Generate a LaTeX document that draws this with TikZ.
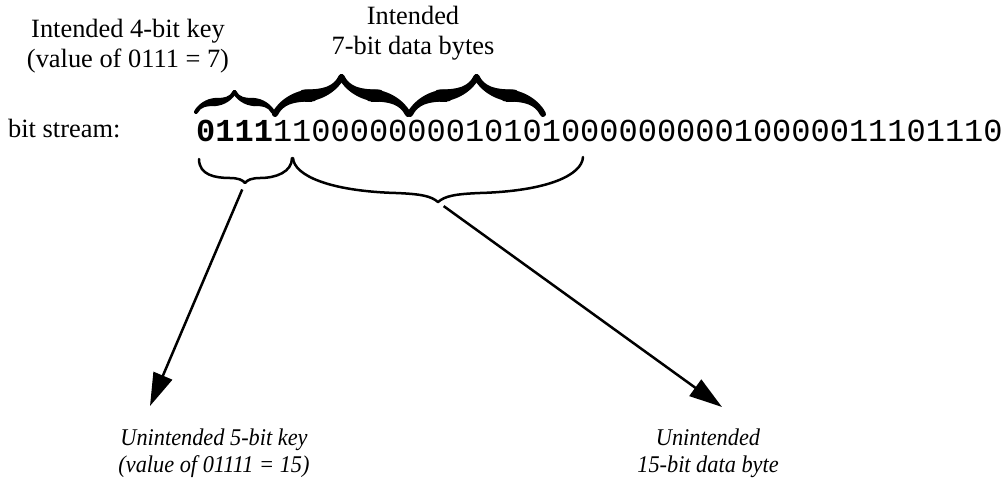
\documentclass[tikz,border=0pt]{standalone}
\usepackage{fontspec}
\setmainfont{Liberation Serif}
\setmonofont{Liberation Mono}
\newfontfamily\narrowserif[FakeStretch=0.93]{Liberation Serif}
\usetikzlibrary{arrows.meta,decorations.pathreplacing,calligraphy}

\begin{document}
\begin{tikzpicture}[x=1pt,y=-1pt,
  label/.style={align=center,font=\fontsize{26.4}{30}\selectfont,inner sep=0pt,anchor=base},
  ilabel/.style={align=center,font=\narrowserif\fontsize{24}{27}\selectfont\itshape,inner sep=0pt,anchor=base},
  topbrace/.style={decorate,decoration={calligraphic brace,amplitude=#1},pen colour=black},
  lowbrace/.style={line width=2.5pt,line join=round,line cap=round},
  pointer/.style={line width=2.5pt,shorten <=7pt,-{Triangle[length=33pt,width=20pt]}}]

\useasboundingbox (0,0) rectangle (1006,482);

% labels above the stream (anchored at the baseline of their last line)
\node[label] (keylbl) at (128,67) {Intended 4-bit key\\(value of 0111 = 7)};
\node[label] (datalbl) at (413,54) {Intended\\7-bit data bytes};
\node[label,anchor=base west] (streamlbl) at (8,137) {bit stream:};

% the bit stream itself
\node[inner sep=0pt,anchor=base west,font=\fontsize{32}{36}\selectfont\ttfamily] (bits) at (196,141)
  {\textbf{0111}11000000001010100000000010000011101110};

% intended grouping: 4-bit key, then two 7-bit data bytes
\draw[topbrace=20pt,line width=8pt] (196,112) -- (273,112);
\draw[topbrace=37pt,line width=12pt] (275,114) -- (408,114);
\draw[topbrace=37pt,line width=12pt] (410,114) -- (543,114);

% unintended grouping: 5-bit key, then a 15-bit data byte
\draw[lowbrace] (199,159) .. controls (199,175) and (215,178) .. (230,178)
  .. controls (238,178) and (243,180) .. (245,183) coordinate (tipA)
  .. controls (247,180) and (252,178) .. (260,178)
  .. controls (276,178) and (292,172) .. (292,158);
\draw[lowbrace] (293,158) .. controls (294,175) and (328,191) .. (396,193)
  .. controls (421,194) and (431,196) .. (438,202) coordinate (tipB)
  .. controls (445,196) and (455,194) .. (480,193)
  .. controls (548,191) and (582,175) .. (583,157);

% labels below
\node[ilabel] (keyout) at (214,472) {Unintended 5-bit key\\(value of 01111 = 15)};
\node[ilabel] (dataout) at (708,472) {Unintended\\15-bit data byte};

\coordinate (endA) at (150,406);
\coordinate (endB) at (722,407);
\draw[pointer] (tipA) -- (endA);
\draw[pointer] (tipB) -- (endB);
\end{tikzpicture}
\end{document}
